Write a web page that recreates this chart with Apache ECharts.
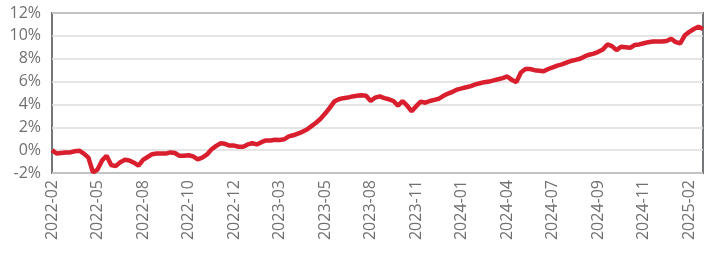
<!DOCTYPE html>
<html>
<head>
<meta charset="utf-8">
<script src="https://cdn.jsdelivr.net/npm/echarts@6/dist/echarts.min.js"></script>
<style>
  html, body { margin: 0; padding: 0; background: #fff; }
  #chart { width: 704px; height: 262px; }
</style>
</head>
<body>
<div id="chart"></div>
<script>
// tick labels, one every 10 weekly points
const tickLabels = ['2022-02', '2022-05', '2022-08', '2022-10', '2022-12', '2023-03', '2023-05',
  '2023-08', '2023-11', '2024-01', '2024-04', '2024-07', '2024-09', '2024-11', '2025-02']
const tickStep = 10

// cumulative return, % (weekly)
const returns = [
  0.0, -0.3, -0.25, -0.2, -0.2, -0.1, -0.05, -0.3, -0.65, -1.95,
  -1.7, -0.9, -0.5, -1.3, -1.4, -1.05, -0.85, -0.9, -1.1, -1.35,
  -0.85, -0.6, -0.35, -0.3, -0.3, -0.3, -0.2, -0.25, -0.5, -0.5,
  -0.45, -0.55, -0.8, -0.65, -0.4, 0.05, 0.35, 0.6, 0.55, 0.4,
  0.4, 0.3, 0.3, 0.5, 0.6, 0.5, 0.7, 0.85, 0.85, 0.9,
  0.88, 0.95, 1.2, 1.3, 1.45, 1.6, 1.8, 2.1, 2.4, 2.75,
  3.2, 3.7, 4.25, 4.45, 4.55, 4.6, 4.7, 4.75, 4.8, 4.75,
  4.3, 4.6, 4.7, 4.55, 4.45, 4.3, 3.9, 4.3, 3.9, 3.4,
  3.85, 4.25, 4.15, 4.3, 4.4, 4.5, 4.75, 4.95, 5.1, 5.3,
  5.4, 5.5, 5.6, 5.75, 5.85, 5.95, 6.0, 6.1, 6.2, 6.3,
  6.45, 6.15, 5.95, 6.8, 7.1, 7.1, 7.0, 6.95, 6.9, 7.1,
  7.25, 7.4, 7.5, 7.65, 7.8, 7.9, 8.0, 8.2, 8.35, 8.45,
  8.6, 8.8, 9.25, 9.1, 8.75, 9.05, 9.0, 8.95, 9.2, 9.25,
  9.35, 9.45, 9.5, 9.5, 9.5, 9.55, 9.75, 9.45, 9.35, 10.05,
  10.35, 10.6, 10.8, 10.6
]

const textStyle = { color: '#707070', fontSize: 16, fontFamily: 'Open Sans' }

const chart = echarts.init(document.getElementById('chart'), null, { renderer: 'canvas' })

const option = {
  animation: false,
  backgroundColor: '#fff',
  grid: {
    left: 52, right: 1, top: 13, bottom: 89,
    show: true,
    borderColor: '#737779',
    borderWidth: 2
  },
  xAxis: {
    type: 'value',
    min: 0,
    max: returns.length - 1,
    interval: tickStep,
    axisLine: { show: false },
    axisTick: { show: false },
    splitLine: { show: false },
    axisLabel: Object.assign({
      rotate: 90,
      margin: 7,
      showMaxLabel: false,
      formatter: v => tickLabels[v / tickStep] || ''
    }, textStyle)
  },
  yAxis: {
    type: 'value',
    min: -2,
    max: 12,
    interval: 2,
    axisLine: { show: false },
    axisTick: { show: false },
    splitLine: { lineStyle: { color: '#dcdcdc', width: 1.5 } },
    axisLabel: Object.assign({
      margin: 11,
      formatter: v => v + '%'
    }, textStyle)
  },
  series: [
    {
      type: 'line',
      data: returns.map((v, i) => [i, v]),
      showSymbol: false,
      lineStyle: { color: '#d91f2e', width: 4.5 },
      clip: true
    }
  ]
}

chart.setOption(option)
</script>
</body>
</html>
